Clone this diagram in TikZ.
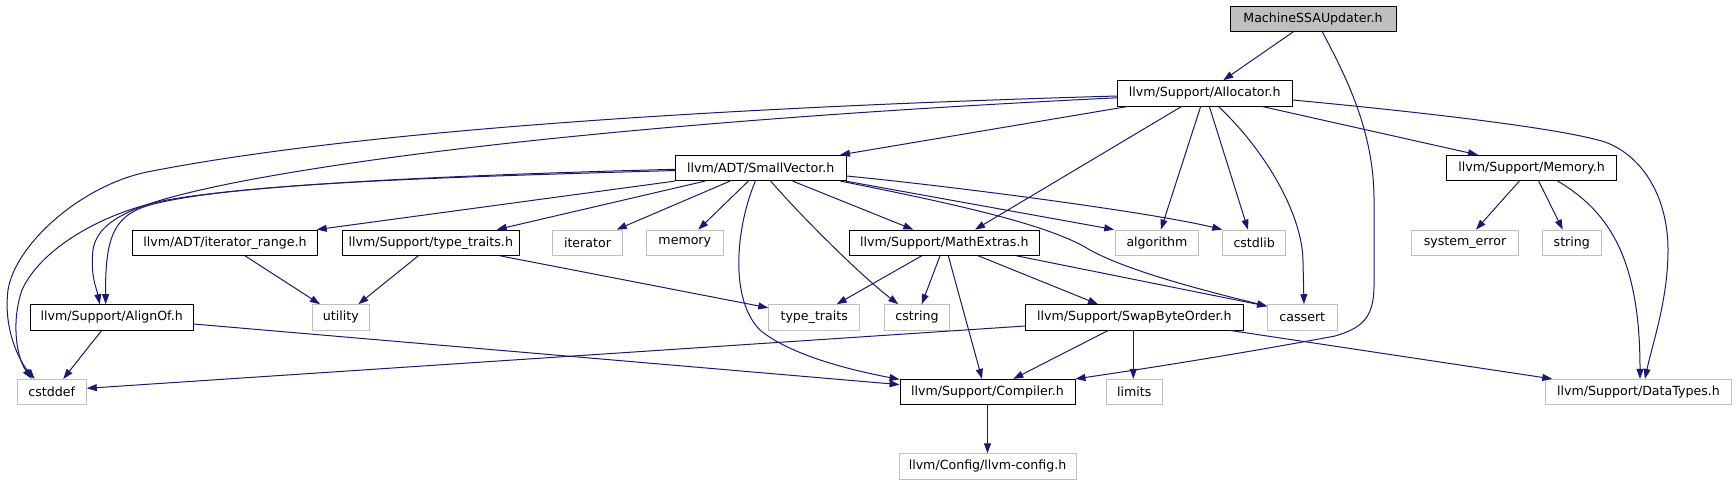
\documentclass[tikz,border=0pt]{standalone}
\usepackage{fontspec}
\setmainfont{DejaVu Sans}
\usetikzlibrary{arrows.meta}
\definecolor{edgecol}{HTML}{191970}
\definecolor{extcol}{HTML}{BFBFBF}
\definecolor{curfill}{HTML}{BFBFBF}
\begin{document}
\begin{tikzpicture}[x=1pt,y=-1pt,
  box/.style={draw=black, line width=0.9pt, rectangle, inner sep=0pt, minimum height=25.3pt, font=\fontsize{12.6}{15}\selectfont, text=black},
  ext/.style={box, draw=extcol},
  cur/.style={box, fill=curfill},
  dep/.style={draw=edgecol, line width=1pt, -{Triangle[length=10pt,width=7pt]}}]
\useasboundingbox (0,0) rectangle (1736,485);

% row 0
\node[cur, minimum width=166] (M) at (1313,18.7) {MachineSSAUpdater.h};
% row 1
\node[box, minimum width=175] (A) at (1204.8,93.3) {llvm/Support/Allocator.h};
% row 2
\node[box, minimum width=170.7] (SV) at (760.7,168) {llvm/ADT/SmallVector.h};
\node[box, minimum width=169.6] (Mem) at (1531.5,168) {llvm/Support/Memory.h};
% row 3
\node[box, minimum width=185.4] (IR) at (225,242.7) {llvm/ADT/iterator\_range.h};
\node[box, minimum width=177] (TT) at (430.8,242.7) {llvm/Support/type\_traits.h};
\node[ext, minimum width=69.6] (it) at (587.5,242.7) {iterator};
\node[ext, minimum width=76.3] (mem) at (684.8,242.7) {memory};
\node[box, minimum width=190] (ME) at (944.3,242.7) {llvm/Support/MathExtras.h};
\node[ext, minimum width=82.6] (alg) at (1156.9,242.7) {algorithm};
\node[ext, minimum width=63] (cstdlib) at (1254.2,242.7) {cstdlib};
\node[ext, minimum width=106.6] (syserr) at (1465,242.7) {system\_error};
\node[ext, minimum width=59] (string) at (1571.8,242.7) {string};
% row 4
\node[box, minimum width=162.7] (AO) at (111.7,317.3) {llvm/Support/AlignOf.h};
\node[ext, minimum width=56.3] (utility) at (340.8,317.3) {utility};
\node[ext, minimum width=91] (tt) at (814.2,317.3) {type\_traits};
\node[ext, minimum width=65.4] (cstring) at (917,317.3) {cstring};
\node[box, minimum width=217.3] (SBO) at (1134.3,317.3) {llvm/Support/SwapByteOrder.h};
\node[ext, minimum width=69.3] (cassert) at (1302.3,317.3) {cassert};
% row 5
\node[ext, minimum width=69.3] (cstddef) at (51.7,392) {cstddef};
\node[box, minimum width=175] (C) at (987.5,392) {llvm/Support/Compiler.h};
\node[ext, minimum width=56] (limits) at (1134.3,392) {limits};
\node[ext, minimum width=185.6] (DT) at (1638.5,392) {llvm/Support/DataTypes.h};
% row 6
\node[ext, minimum width=177] (LC) at (987.5,466.4) {llvm/Config/llvm-config.h};

% MachineSSAUpdater
\draw[dep] ([xshift=-19.7]M.south) -- ([xshift=18.5]A.north);
\draw[dep] ([xshift=9.3]M.south) .. controls (1345,75) and (1374,130) .. (1374,200) -- (1374,285) .. controls (1374,318) and (1362,328) .. (1335,336) .. controls (1250,352) and (1150,368) .. (C.north east);

% Allocator
\draw[dep] ([yshift=-2.7]A.west) .. controls (700,108) and (350,132) .. (147,172) .. controls (80,186) and (15,245) .. (8,290) .. controls (3,330) and (20,362) .. ([xshift=-17]cstddef.north);
\draw[dep] ([yshift=-4.5]A.west) .. controls (700,118) and (400,150) .. (233,183) .. controls (150,200) and (98,215) .. (93,250) .. controls (90,275) and (97,290) .. ([xshift=-12]AO.north);
\draw[dep] ([xshift=-76.5]A.south) -- ([xshift=79.3]SV.north);
\draw[dep] ([xshift=-23.1]A.south) -- ([xshift=30.7]ME.north);
\draw[dep] ([xshift=-4.1]A.south) -- ([xshift=4]alg.north);
\draw[dep] ([xshift=4.5]A.south) -- ([xshift=-6.2]cstdlib.north);
\draw[dep] ([xshift=13.5]A.south) .. controls (1265,150) and (1303,215) .. (1303,262) -- ([xshift=1.7]cassert.north);
\draw[dep] ([xshift=56.9]A.south) -- ([xshift=-53.5]Mem.north);
\draw[dep] ([yshift=-6.7]A.east) .. controls (1420,112) and (1560,128) .. (1605,142) .. controls (1645,157) and (1668,200) .. (1668,250) .. controls (1668,300) and (1652,345) .. ([xshift=6.5]DT.north);

% SmallVector
\draw[dep] ([yshift=-1.3]SV.west) .. controls (450,175) and (250,185) .. (167,200) .. controls (100,213) and (40,250) .. (22,290) .. controls (12,318) and (15,355) .. ([xshift=-20]cstddef.north);
\draw[dep] ([yshift=-2.5]SV.west) .. controls (450,177) and (230,183) .. (150,205) .. controls (115,215) and (105,235) .. ([xshift=-6]AO.north);
\draw[dep] (SV.south west) -- ([xshift=91.7]IR.north);
\draw[dep] ([xshift=-55.7]SV.south) -- ([xshift=65.9]TT.north);
\draw[dep] ([xshift=-30.7]SV.south) -- ([xshift=29.2]it.north);
\draw[dep] ([xshift=-12.4]SV.south) -- ([xshift=13.5]mem.north);
\draw[dep] ([xshift=-5.4]SV.south) .. controls (735,230) and (730,300) .. (760,330) .. controls (790,355) and (850,370) .. ([yshift=-0.5]C.north west);
\draw[dep] ([xshift=10]SV.south) .. controls (800,215) and (860,275) .. ([xshift=-18.7]cstring.north);
\draw[dep] ([xshift=32]SV.south) -- ([xshift=-31]ME.north);
\draw[dep] ([xshift=-1]SV.south east) -- ([xshift=-1]alg.north west);
\draw[dep] ([yshift=-8]SV.east) .. controls (950,186) and (1150,212) .. (cstdlib.north west);
\draw[dep] ([xshift=-6]SV.south east) .. controls (960,205) and (1050,225) .. (1090,250) .. controls (1130,272) and (1210,292) .. ([yshift=-2]cassert.north west);

% Memory
\draw[dep] ([xshift=-12.2]Mem.south) -- ([xshift=11]syserr.north);
\draw[dep] ([xshift=7.2]Mem.south) -- ([xshift=-9.1]string.north);
\draw[dep] ([xshift=26.2]Mem.south) .. controls (1610,212) and (1640,260) .. ([xshift=1.5]DT.north);

% row 3 sources
\draw[dep] ([xshift=20]IR.south) -- ([xshift=-20.8]utility.north);
\draw[dep] ([xshift=-12.5]TT.south) -- ([xshift=17.5]utility.north);
\draw[dep] ([xshift=69.2]TT.south) -- ([yshift=-3.6]tt.north west);

% MathExtras
\draw[dep] ([xshift=-22.6]ME.south) -- ([xshift=22.5]tt.north);
\draw[dep] ([xshift=-4.3]ME.south) -- ([xshift=4.7]cstring.north);
\draw[dep] ([xshift=4]ME.south) -- ([xshift=-5.5]C.north);
\draw[dep] ([xshift=34]ME.south) -- ([xshift=-36.3]SBO.north);
\draw[dep] ([xshift=72.2]ME.south) -- ([yshift=-2]cassert.north west);

% SwapByteOrder
\draw[dep] ([yshift=-8.7]SBO.west) -- ([yshift=3.7]cstddef.east);
\draw[dep] ([xshift=-26]SBO.south) -- ([xshift=25.8]C.north);
\draw[dep] ([xshift=-1]SBO.south) -- ([xshift=-1]limits.north);
\draw[dep] ([xshift=95.7]SBO.south) -- ([xshift=7]DT.north west);

% AlignOf
\draw[dep] ([xshift=-10]AO.south) -- ([xshift=11.6]cstddef.north);
\draw[dep] ([yshift=-6.7]AO.east) -- ([yshift=-5.7]C.north west);

% Compiler
\draw[dep] (C.south) -- (LC.north);
\end{tikzpicture}
\end{document}
